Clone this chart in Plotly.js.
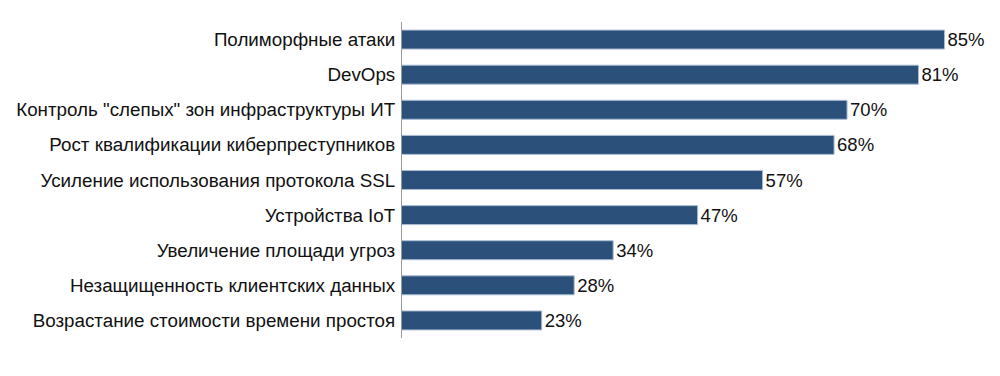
<!DOCTYPE html>
<html>
<head>
<meta charset="utf-8">
<script src="https://cdn.plot.ly/plotly-3.0.1.min.js"></script>
<style>html,body{margin:0;padding:0;background:#fff;}#chart{width:1000px;height:376px;}</style>
</head>
<body>
<div id="chart"></div>
<script>
const categories = [
  'Полиморфные атаки',
  'DevOps',
  'Контроль "слепых" зон инфраструктуры ИТ',
  'Рост квалификации киберпреступников',
  'Усиление использования протокола SSL',
  'Устройства IoT',
  'Увеличение площади угроз',
  'Незащищенность клиентских данных',
  'Возрастание стоимости времени простоя'
];
const values = [85, 81, 70, 68, 57, 47, 34, 28, 23];

const fontFam = '"Liberation Sans", Arial, sans-serif';

const trace = {
  type: 'bar',
  orientation: 'h',
  x: values,
  y: categories,
  marker: {color: '#2b5079', line: {color: '#a9bbd2', width: 1}},
  text: values.map(v => v + '%'),
  textposition: 'outside',
  constraintext: 'none',
  cliponaxis: false,
  textfont: {family: fontFam, size: 18.5, color: '#111'},
  hoverinfo: 'none'
};

const layout = {
  width: 1000,
  height: 376,
  margin: {l: 402, r: 10, t: 22, b: 38, pad: 0},
  paper_bgcolor: '#fff',
  plot_bgcolor: '#fff',
  showlegend: false,
  bargap: 0.46,
  font: {family: fontFam, size: 19, color: '#111'},
  xaxis: {
    range: [1.5, 92],
    visible: false,
    showgrid: false,
    zeroline: false,
    fixedrange: true
  },
  yaxis: {
    type: 'category',
    categoryorder: 'array',
    categoryarray: categories,
    autorange: 'reversed',
    showline: true,
    linecolor: '#9a9a9a',
    linewidth: 1,
    showgrid: false,
    zeroline: false,
    ticks: '',
    ticklabelstandoff: 2,
    tickfont: {family: fontFam, size: 18.8, color: '#111'},
    fixedrange: true
  }
};

Plotly.newPlot('chart', [trace], layout, {staticPlot: true, displayModeBar: false});
</script>
</body>
</html>
